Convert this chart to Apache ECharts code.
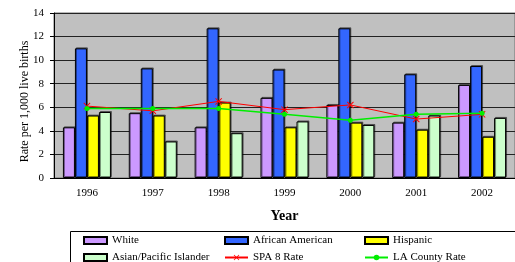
<!DOCTYPE html>
<html>
<head>
<meta charset="utf-8">
<script src="https://cdn.jsdelivr.net/npm/echarts@6/dist/echarts.min.js"></script>
<style>
  html, body { margin: 0; padding: 0; background: #fff; }
  #main { width: 515px; height: 262px; }
</style>
</head>
<body>
<div id="main"></div>
<script>
// data
var years = ['1996', '1997', '1998', '1999', '2000', '2001', '2002'];
var white = [4.3, 5.5, 4.3, 6.8, 6.2, 4.7, 7.9];
var africanAmerican = [11.0, 9.3, 12.7, 9.2, 12.7, 8.8, 9.5];
var hispanic = [5.3, 5.3, 6.4, 4.3, 4.7, 4.1, 3.5];
var asianPacific = [5.6, 3.1, 3.8, 4.8, 4.5, 5.3, 5.1];
var spa8Rate = [6.1, 5.7, 6.5, 5.8, 6.2, 5.0, 5.4];
var laCountyRate = [5.9, 5.9, 5.9, 5.4, 4.9, 5.4, 5.5];

var serif = 'Liberation Serif';
var crossPath = 'path://M0,1L1,0L5,4L9,0L10,1L6,5L10,9L9,10L5,6L1,10L0,9L4,5Z';

function barSeries(name, data, color) {
    return {
        name: name,
        type: 'bar',
        data: data,
        barWidth: 12,
        barGap: '0%',
        itemStyle: {
            color: color,
            borderColor: '#000',
            borderWidth: 1,
            shadowColor: 'rgba(0,0,0,0.45)',
            shadowOffsetX: 1,
            shadowOffsetY: -1
        },
        emphasis: { disabled: true }
    };
}

// one legend per item so the 3x2 grid lines up like the original
function legendItem(left, top, name, icon) {
    return {
        left: left,
        top: top,
        padding: 0,
        itemWidth: 23,
        itemHeight: 7,
        data: [icon ? { name: name, icon: icon } : name],
        textStyle: { fontFamily: serif, fontSize: 11, color: '#000', lineHeight: 13 }
    };
}

var myChart = echarts.init(document.getElementById('main'));
myChart.setOption({
    animation: false,
    grid: {
        left: 54, top: 13, right: -13, bottom: 84,
        show: true,
        backgroundColor: '#C0C0C0',
        borderColor: '#707070',
        borderWidth: 1
    },
    legend: [
        legendItem(83, 234, 'White', 'rect'),
        legendItem(224, 234, 'African American', 'rect'),
        legendItem(364, 234, 'Hispanic', 'rect'),
        legendItem(83, 251, 'Asian/Pacific Islander', 'rect'),
        legendItem(224, 251, 'SPA 8 Rate'),
        legendItem(364, 251, 'LA County Rate')
    ],
    graphic: [{
        type: 'rect',
        shape: { x: 70.5, y: 231.5, width: 460, height: 40 },
        style: { fill: 'none', stroke: '#000', lineWidth: 1 },
        silent: true
    }],
    xAxis: {
        type: 'category',
        data: years,
        name: 'Year',
        nameLocation: 'middle',
        nameGap: 31,
        nameTextStyle: { fontFamily: serif, fontSize: 14, fontWeight: 'bold', color: '#000' },
        axisLine: { lineStyle: { color: '#000', width: 1 } },
        axisTick: { length: 4, lineStyle: { color: '#000' } },
        axisLabel: { fontFamily: serif, fontSize: 11, color: '#000', margin: 10 }
    },
    yAxis: {
        type: 'value',
        min: 0,
        max: 14,
        interval: 2,
        name: 'Rate per 1,000 live births',
        nameLocation: 'middle',
        nameGap: 23,
        nameMoveOverlap: false,
        nameTextStyle: { fontFamily: serif, fontSize: 12, color: '#000', padding: [0, 12, 0, 0] },
        axisLine: { show: true, lineStyle: { color: '#000', width: 1 } },
        axisTick: { show: true, length: 4, lineStyle: { color: '#000' } },
        axisLabel: { fontFamily: serif, fontSize: 11, color: '#000', margin: 10 },
        splitLine: { lineStyle: { color: '#222', width: 1 } }
    },
    series: [
        barSeries('White', white, '#CC99FF'),
        barSeries('African American', africanAmerican, '#3366FF'),
        barSeries('Hispanic', hispanic, '#FFFF00'),
        barSeries('Asian/Pacific Islander', asianPacific, '#CCFFCC'),
        {
            name: 'SPA 8 Rate',
            type: 'line',
            data: spa8Rate,
            symbol: crossPath,
            symbolSize: 7,
            itemStyle: { color: '#FF0000' },
            lineStyle: { color: '#FF0000', width: 1 },
            z: 5
        },
        {
            name: 'LA County Rate',
            type: 'line',
            data: laCountyRate,
            symbol: 'circle',
            symbolSize: 5,
            itemStyle: { color: '#00EE00' },
            lineStyle: { color: '#00EE00', width: 1.5 },
            z: 6
        }
    ]
});
</script>
</body>
</html>
